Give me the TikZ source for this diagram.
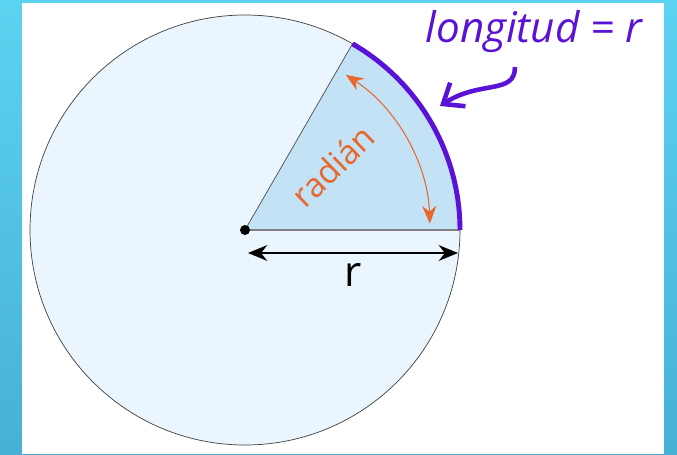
\documentclass[tikz,border=0pt]{standalone}
\usepackage{fontspec}
\newfontfamily\labelfont{Open Sans}
\usetikzlibrary{arrows.meta}
\definecolor{skyA}{HTML}{5CD3F0}
\definecolor{skyB}{HTML}{47B0D6}
\definecolor{diskfill}{HTML}{EAF5FD}
\definecolor{sectorfill}{HTML}{C3E2F6}
\definecolor{arcpurple}{HTML}{5A12D6}
\definecolor{radorange}{HTML}{E8672A}
\begin{document}
\begin{tikzpicture}[x=0.02cm,y=0.02cm]
  \useasboundingbox (-245,-224) rectangle (432,230);
  \shade[top color=skyA,bottom color=skyB] (-245,-224) rectangle (432,230);
  \fill[white] (-223,-224) rectangle (419,227);
  \coordinate (O) at (0,0);
  \coordinate (A) at (0:215);
  \coordinate (B) at (60:215);
  \draw[black!75,fill=diskfill] (O) circle (215);
  \fill[sectorfill] (O) -- (A) arc (0:60:215) -- cycle;
  \draw[black!70] (O) -- (B);
  \draw[line width=1.7pt,black!50] (O) -- (A);
  \draw[line width=2.8pt,arcpurple] (A) arc (0:60:215);
  \fill (O) circle (5);
  \draw[radorange,line width=0.6pt,{Stealth[length=10pt,width=8pt]}-{Stealth[length=10pt,width=8pt]}] (2:185) arc (2:57:185);
  \node[radorange,rotate=44,font=\labelfont\fontsize{19}{21}\selectfont] (rad) at (88,64) {radián};
  \coordinate (L) at (3,-23);
  \coordinate (R) at (213,-23);
  \draw[line width=0.9pt,{Stealth[length=11pt,width=9pt]}-{Stealth[length=11pt,width=9pt]}] (L) -- (R) node[midway,below=2pt,font=\labelfont\fontsize{24}{26}\selectfont] (r) {r};
  \node[arcpurple,font=\labelfont\itshape\fontsize{24}{28}\selectfont] (len) at (289,198) {longitud = r};
  \coordinate (C) at (195,124);
  \draw[line width=2.6pt,arcpurple,-{Straight Barb[length=10pt,width=16pt]}] (270,163) .. controls (270,135) and (235,150) .. (C);
\end{tikzpicture}
\end{document}
